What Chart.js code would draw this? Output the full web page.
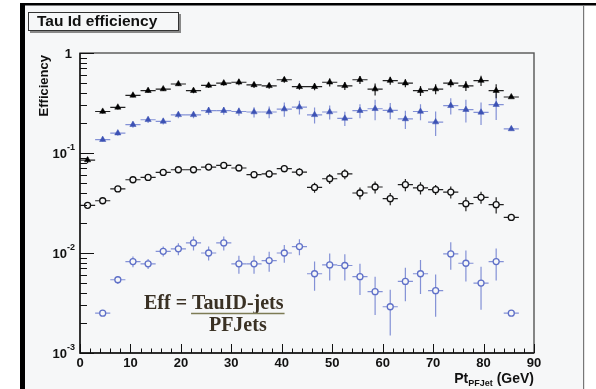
<!DOCTYPE html>
<html>
<head>
<meta charset="utf-8">
<script src="https://cdn.jsdelivr.net/npm/chart.js@4.4.1/dist/chart.umd.min.js"></script>
<style>
html,body{margin:0;padding:0;background:#ffffff;}
#wrap{position:absolute;left:0;top:0;width:596px;height:389px;}
</style>
</head>
<body>
<div id="wrap"><canvas id="c" width="596" height="389"></canvas></div>
<script>
// ---- data ----
const binCenters = [1.5, 4.5, 7.5, 10.5, 13.5, 16.5, 19.5, 22.5, 25.5, 28.5, 31.5, 34.5, 37.5, 40.5, 43.5, 46.5, 49.5, 52.5, 55.5, 58.5, 61.5, 64.5, 67.5, 70.5, 73.5, 76.5, 79.5, 82.5, 85.5];
const binHalfWidth = 1.5;

const effBlackTri = [0.085, 0.26, 0.286, 0.377, 0.42, 0.436, 0.49, 0.42, 0.474, 0.50, 0.51, 0.48, 0.47, 0.54, 0.46, 0.46, 0.51, 0.47, 0.54, 0.436, 0.53, 0.50, 0.42, 0.436, 0.50, 0.47, 0.53, 0.42, 0.363];
const errBlackTri = [0.006, 0.012, 0.013, 0.017, 0.019, 0.02, 0.023, 0.024, 0.027, 0.029, 0.035, 0.033, 0.032, 0.037, 0.032, 0.037, 0.047, 0.043, 0.05, 0.06, 0.049, 0.046, 0.048, 0.05, 0.046, 0.054, 0.061, 0.068, 0.008];

const effBlueTri = [null, 0.136, 0.158, 0.192, 0.215, 0.207, 0.241, 0.241, 0.265, 0.265, 0.26, 0.257, 0.257, 0.275, 0.288, 0.241, 0.257, 0.222, 0.265, 0.277, 0.267, 0.219, 0.26, 0.204, 0.297, 0.271, 0.255, 0.304, 0.174];
const errBlueTri = [null, 0.006, 0.009, 0.013, 0.015, 0.014, 0.019, 0.019, 0.024, 0.024, 0.024, 0.03, 0.035, 0.044, 0.046, 0.044, 0.041, 0.036, 0.043, 0.064, 0.049, 0.045, 0.048, 0.056, 0.055, 0.069, 0.065, 0.09, 0.005];

const effBlackCirc = [0.030, 0.0333, 0.0437, 0.054, 0.057, 0.064, 0.068, 0.068, 0.0724, 0.0752, 0.0708, 0.0607, 0.0617, 0.0697, 0.0645, 0.0453, 0.0553, 0.0617, 0.0398, 0.0457, 0.0349, 0.0482, 0.0447, 0.043, 0.0407, 0.0311, 0.036, 0.0304, 0.0227];
const errBlackCirc = [0.0014, 0.0015, 0.002, 0.0025, 0.0026, 0.0037, 0.0039, 0.0039, 0.005, 0.0052, 0.0049, 0.0049, 0.005, 0.0056, 0.0059, 0.0052, 0.0064, 0.0071, 0.0055, 0.0063, 0.0048, 0.0067, 0.0062, 0.0049, 0.0056, 0.005, 0.005, 0.0056, 0.0005];

const effBlueCirc = [null, 0.0025, 0.0054, 0.0082, 0.0078, 0.0104, 0.011, 0.0126, 0.010, 0.0126, 0.0078, 0.0078, 0.0084, 0.010, 0.0116, 0.0062, 0.0076, 0.0075, 0.0058, 0.0041, 0.0029, 0.0052, 0.0062, 0.0042, 0.0098, 0.0079, 0.005, 0.0082, 0.0025];
const errBlueCirc = [null, 0.0001, 0.0005, 0.001, 0.0009, 0.0012, 0.0015, 0.002, 0.0016, 0.002, 0.0016, 0.0016, 0.0019, 0.002, 0.0021, 0.002, 0.0023, 0.0022, 0.002, 0.0017, 0.0014, 0.0019, 0.0023, 0.0019, 0.003, 0.0027, 0.0023, 0.0029, 0.0001];

const xMajorTicks = [0, 10, 20, 30, 40, 50, 60, 70, 80, 90];
const xMinorStep = 2;
const yDecades = [1, 0.1, 0.01, 0.001];
const yTickLabels = [{base:"1", exp:""}, {base:"10", exp:"-1"}, {base:"10", exp:"-2"}, {base:"10", exp:"-3"}];
const titleText = "Tau Id efficiency";
const yTitle = "Efficiency";
const xTitleMain = "Pt";
const xTitleSub = "PFJet";
const xTitleUnit = " (GeV)";
const formulaLeft = "Eff = ";
const formulaNum = "TauID-jets";
const formulaDen = "PFJets";

// ---- styling ----
const BG = "#f6f7f8";
const BLUE_DARK = "#3d52b4";
const BLUE_LIGHT = "#5f70c8";
const BLUE_BAR = "#8391d6";

function pts(vals){
  const out = [];
  vals.forEach((v,i)=>{ if(v!==null) out.push({x:binCenters[i], y:v}); });
  return out;
}
function errs(vals, e){
  const out = [];
  vals.forEach((v,i)=>{ if(v!==null) out.push({x:binCenters[i], y:v, e:e[i]}); });
  return out;
}

const datasets = [
  {label:"blue open", data:pts(effBlueCirc), errData:errs(effBlueCirc, errBlueCirc), pointStyle:"circle", pointRadius:3, borderWidth:1.3, borderColor:BLUE_LIGHT, backgroundColor:BG, barColor:BLUE_BAR},
  {label:"black open", data:pts(effBlackCirc), errData:errs(effBlackCirc, errBlackCirc), pointStyle:"circle", pointRadius:3, borderWidth:1.3, borderColor:"#111111", backgroundColor:BG, barColor:"#222222"},
  {label:"blue tri", data:pts(effBlueTri), errData:errs(effBlueTri, errBlueTri), pointStyle:"triangle", pointRadius:3.6, borderWidth:0.5, borderColor:BLUE_DARK, backgroundColor:BLUE_DARK, barColor:BLUE_BAR},
  {label:"black tri", data:pts(effBlackTri), errData:errs(effBlackTri, errBlackTri), pointStyle:"triangle", pointRadius:3.6, borderWidth:0.5, borderColor:"#000000", backgroundColor:"#000000", barColor:"#222222"}
];
datasets.forEach(d=>{ d.showLine=false; d.pointHoverRadius=d.pointRadius; });

const bgPlugin = {
  id:"bg",
  beforeDraw(chart){
    const ctx = chart.ctx;
    ctx.save();
    ctx.fillStyle = "#ffffff";
    ctx.fillRect(0,0,596,389);
    ctx.fillStyle = BG;
    ctx.fillRect(22,4,561,385);
    ctx.fillStyle = "#000000";
    ctx.fillRect(20,3,576,2.5);
    ctx.fillRect(20,3,5,386);
    ctx.fillStyle = "#777777";
    ctx.fillRect(583,5,1.2,384);
    ctx.restore();
  }
};

const errPlugin = {
  id:"errbars",
  beforeDatasetsDraw(chart){
    const ctx = chart.ctx, xs = chart.scales.x, ys = chart.scales.y;
    ctx.save();
    chart.data.datasets.forEach(ds=>{
      ctx.strokeStyle = ds.barColor;
      ctx.lineWidth = 1.2;
      ds.errData.forEach(p=>{
        const px = xs.getPixelForValue(p.x);
        const py = ys.getPixelForValue(p.y);
        const xl = xs.getPixelForValue(p.x - binHalfWidth);
        const xr = xs.getPixelForValue(p.x + binHalfWidth);
        const lo = Math.max(p.y - p.e, 0.0005);
        const yl = ys.getPixelForValue(lo);
        const yh = ys.getPixelForValue(p.y + p.e);
        ctx.beginPath();
        ctx.moveTo(xl, py); ctx.lineTo(xr, py);
        ctx.moveTo(px, yh); ctx.lineTo(px, Math.min(yl, chart.chartArea.bottom));
        ctx.stroke();
      });
    });
    ctx.restore();
  }
};

const axesPlugin = {
  id:"axes",
  afterDatasetsDraw(chart){
    const ctx = chart.ctx, xs = chart.scales.x, ys = chart.scales.y, a = chart.chartArea;
    ctx.save();
    // frame
    ctx.strokeStyle = "#555555";
    ctx.lineWidth = 1.4;
    ctx.strokeRect(a.left, a.top, a.right - a.left, a.bottom - a.top);
    ctx.strokeStyle = "#111111";
    ctx.lineWidth = 1.4;
    ctx.beginPath();
    ctx.moveTo(a.left, a.top); ctx.lineTo(a.left, a.bottom); ctx.lineTo(a.right, a.bottom);
    ctx.stroke();
    // x ticks
    ctx.lineWidth = 1;
    ctx.beginPath();
    for(let v = xMajorTicks[0]; v <= xMajorTicks[xMajorTicks.length-1]; v += xMinorStep){
      const px = Math.round(xs.getPixelForValue(v)) + 0.5;
      const major = xMajorTicks.includes(v);
      ctx.moveTo(px, a.bottom); ctx.lineTo(px, a.bottom - (major ? 9 : 4.5));
    }
    ctx.stroke();
    // y ticks
    ctx.beginPath();
    yDecades.forEach((d,i)=>{
      const py = Math.round(ys.getPixelForValue(d)) + 0.5;
      ctx.moveTo(a.left, py); ctx.lineTo(a.left + 14, py);
      if(i < yDecades.length - 1){
        for(let m = 2; m <= 9; m++){
          const pm = Math.round(ys.getPixelForValue(d * m / 10)) + 0.5;
          ctx.moveTo(a.left, pm); ctx.lineTo(a.left + 7, pm);
        }
      }
    });
    ctx.stroke();
    // x tick labels
    ctx.fillStyle = "#111111";
    ctx.font = "bold 13px 'Liberation Sans', Arial, sans-serif";
    ctx.textAlign = "center"; ctx.textBaseline = "middle";
    xMajorTicks.forEach(v=>{
      ctx.fillText(String(v), xs.getPixelForValue(v), a.bottom + 10);
    });
    // y tick labels
    yDecades.forEach((d,i)=>{
      const py = ys.getPixelForValue(d);
      const lab = yTickLabels[i];
      ctx.font = "bold 13px 'Liberation Sans', Arial, sans-serif";
      if(lab.exp === ""){
        ctx.textAlign = "right";
        ctx.fillText(lab.base, a.left - 8, py + 1);
      } else {
        ctx.font = "bold 9px 'Liberation Sans', Arial, sans-serif";
        const ew = ctx.measureText(lab.exp).width;
        ctx.textAlign = "left";
        const ex = a.left - 5 - ew;
        ctx.fillText(lab.exp, ex, py - 5);
        ctx.font = "bold 13px 'Liberation Sans', Arial, sans-serif";
        ctx.textAlign = "right";
        ctx.fillText(lab.base, ex, py + 1);
      }
    });
    // x title
    ctx.textBaseline = "alphabetic";
    ctx.textAlign = "left";
    ctx.font = "bold 14px 'Liberation Sans', Arial, sans-serif";
    const w1 = ctx.measureText(xTitleMain).width;
    const w3 = ctx.measureText(xTitleUnit).width;
    ctx.font = "bold 9px 'Liberation Sans', Arial, sans-serif";
    const w2 = ctx.measureText(xTitleSub).width;
    let x0 = a.right - (w1 + w2 + w3);
    const by = 383;
    ctx.font = "bold 14px 'Liberation Sans', Arial, sans-serif";
    ctx.fillText(xTitleMain, x0, by);
    ctx.font = "bold 9px 'Liberation Sans', Arial, sans-serif";
    ctx.fillText(xTitleSub, x0 + w1, by + 3);
    ctx.font = "bold 14px 'Liberation Sans', Arial, sans-serif";
    ctx.fillText(xTitleUnit, x0 + w1 + w2, by);
    // y title
    ctx.save();
    ctx.translate(48, a.top + 2);
    ctx.rotate(-Math.PI/2);
    ctx.font = "bold 13px 'Liberation Sans', Arial, sans-serif";
    ctx.textAlign = "right";
    ctx.textBaseline = "alphabetic";
    ctx.fillText(yTitle, 0, 0);
    ctx.restore();
    // title box
    ctx.fillStyle = "#888888";
    ctx.fillRect(30, 14, 151, 19);
    ctx.fillStyle = BG;
    ctx.fillRect(28, 12, 151, 19);
    ctx.strokeStyle = "#333333";
    ctx.lineWidth = 1;
    ctx.strokeRect(28.5, 12.5, 150, 18);
    ctx.fillStyle = "#111111";
    ctx.font = "bold 15.5px 'Liberation Sans', Arial, sans-serif";
    ctx.textAlign = "left"; ctx.textBaseline = "middle";
    ctx.fillText(titleText, 37, 22);
    // formula
    ctx.fillStyle = "#3a3124";
    ctx.font = "bold 20px 'Liberation Serif', 'DejaVu Serif', serif";
    ctx.textBaseline = "alphabetic";
    ctx.textAlign = "left";
    const fl = ctx.measureText(formulaLeft).width;
    const fn = ctx.measureText(formulaNum).width;
    const fx = 144;
    ctx.fillText(formulaLeft, fx, 309);
    ctx.fillText(formulaNum, fx + fl, 309);
    ctx.strokeStyle = "#7d7b55";
    ctx.lineWidth = 1.5;
    ctx.beginPath();
    ctx.moveTo(fx + fl - 1, 313.5); ctx.lineTo(fx + fl + fn + 1, 313.5);
    ctx.stroke();
    ctx.textAlign = "center";
    ctx.fillText(formulaDen, fx + fl + fn/2, 331);
    ctx.restore();
  }
};

new Chart(document.getElementById("c"), {
  type:"scatter",
  data:{datasets:datasets},
  options:{
    responsive:false,
    animation:false,
    devicePixelRatio:1,
    layout:{padding:{left:80, right:62, top:53, bottom:36}},
    plugins:{legend:{display:false}, tooltip:{enabled:false}, title:{display:false}},
    scales:{
      x:{type:"linear", min:0, max:90, display:false},
      y:{type:"logarithmic", min:0.001, max:1, display:false}
    }
  },
  plugins:[bgPlugin, errPlugin, axesPlugin]
});
</script>
</body>
</html>
